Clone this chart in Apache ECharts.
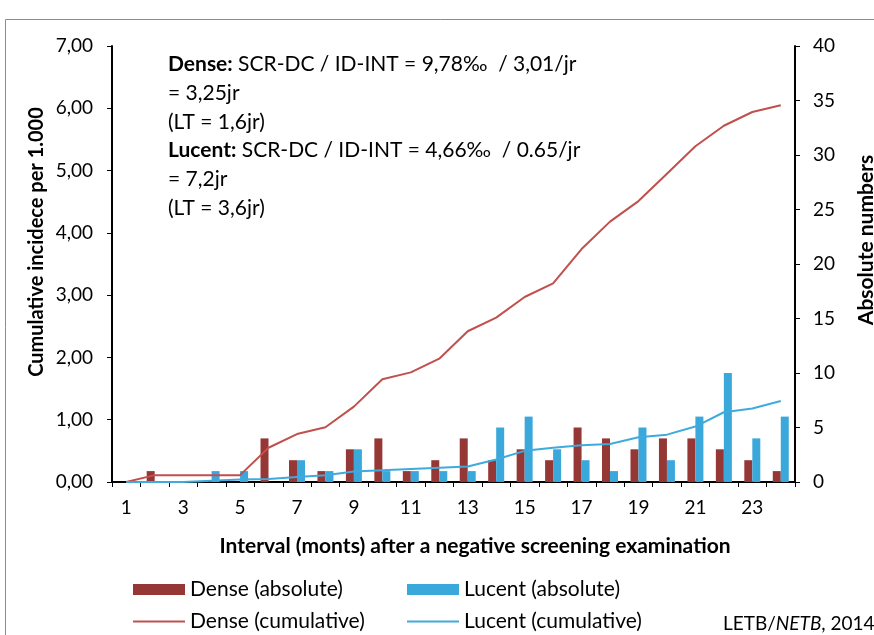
<!DOCTYPE html>
<html>
<head>
<meta charset="utf-8">
<script src="https://cdn.jsdelivr.net/npm/echarts@6/dist/echarts.min.js"></script>
<style>
html,body{margin:0;padding:0;background:#fff;}
#chart{width:874px;height:635px;}
</style>
</head>
<body>
<div id="chart"></div>
<script>
const categories = ['1','2','3','4','5','6','7','8','9','10','11','12','13','14','15','16','17','18','19','20','21','22','23','24'];
const denseAbsolute = [0,1,0,0,0,4,2,1,3,4,1,2,4,2,3,2,5,4,3,4,4,3,2,1];
const lucentAbsolute = [0,0,0,1,1,0,2,1,3,1,1,1,1,5,6,3,2,1,5,2,6,10,4,6];
const denseCumulative = [0,0.11,0.11,0.11,0.11,0.55,0.77,0.88,1.21,1.65,1.76,1.98,2.42,2.64,2.97,3.19,3.74,4.18,4.51,4.95,5.39,5.72,5.94,6.05];
const lucentCumulative = [0,0,0,0.02,0.04,0.05,0.08,0.11,0.17,0.19,0.21,0.23,0.25,0.36,0.50,0.55,0.59,0.61,0.72,0.76,0.89,1.12,1.18,1.30];
const leftTickLabels = ['0,00','1,00','2,00','3,00','4,00','5,00','6,00','7,00'];
const rightTickLabels = ['0','5','10','15','20','25','30','35','40'];
const seriesNames = ['Dense (absolute)','Lucent (absolute)','Dense (cumulative)','Lucent (cumulative)'];
const annotationLines = [
  '{b|Dense:} SCR-DC / ID-INT = 9,78\u2030  / 3,01/jr',
  '= 3,25jr',
  '(LT = 1,6jr)',
  '{b|Lucent:} SCR-DC / ID-INT = 4,66\u2030  / 0.65/jr',
  '= 7,2jr',
  '(LT = 3,6jr)'
];
const xTitle = 'Interval (monts) after a negative screening examination';
const leftTitle = 'Cumulative incidece per 1.000';
const rightTitle = 'Absolute numbers';

const FONT = 'Lato';
const C_DENSE_BAR = '#953735';
const C_LUCENT_BAR = '#3BA8DC';
const C_DENSE_LINE = '#C0504D';
const C_LUCENT_LINE = '#3FAADD';

const chart = echarts.init(document.getElementById('chart'), null, {renderer:'canvas'});

const annotationGraphics = annotationLines.map((t, i) => ({
  type: 'text', left: 168, top: 54 + i * 28.7,
  style: {text: t, font: '21px ' + FONT, fill: '#000',
    rich: {b: {fontWeight: 'bold', fontSize: 21, fontFamily: FONT, fill: '#000'}}}
}));

function legendFor(name, x, y, isLine) {
  return {
    left: x, top: y, orient: 'horizontal', padding: 0,
    data: [{name: name, icon: 'rect'}],
    itemWidth: 52, itemHeight: isLine ? 2 : 11,
    textStyle: {fontSize: 21, fontFamily: FONT, color: '#000'},
    selectedMode: false
  };
}

const option = {
  animation: false,
  backgroundColor: '#fff',
  textStyle: {fontFamily: FONT},
  grid: {left: 112, right: 79, top: 46, bottom: 153, containLabel: false},
  xAxis: {
    type: 'category', data: categories, boundaryGap: true,
    axisLine: {lineStyle: {color: '#000', width: 2}},
    axisTick: {show: true, interval: 0, length: 5, lineStyle: {color: '#000'}},
    axisLabel: {interval: 1, fontSize: 19, color: '#000', fontFamily: FONT, margin: 16},
    splitLine: {show: false}
  },
  yAxis: [
    {type: 'value', min: 0, max: 7, interval: 1, position: 'left',
     axisLine: {show: true, lineStyle: {color: '#000', width: 2}},
     axisTick: {show: true, length: 5, lineStyle: {color: '#000'}},
     axisLabel: {fontSize: 19, color: '#000', fontFamily: FONT, margin: 19,
       formatter: (v) => leftTickLabels[Math.round(v)]},
     splitLine: {show: false}},
    {type: 'value', min: 0, max: 40, interval: 5, position: 'right',
     axisLine: {show: true, lineStyle: {color: '#000', width: 2}},
     axisTick: {show: true, length: 5, lineStyle: {color: '#000'}},
     axisLabel: {fontSize: 19, color: '#000', fontFamily: FONT, margin: 18,
       formatter: (v) => rightTickLabels[Math.round(v / 5)]},
     splitLine: {show: false}}
  ],
  legend: [
    legendFor(seriesNames[0], 133, 579, false),
    legendFor(seriesNames[1], 407, 579, false),
    legendFor(seriesNames[2], 133, 611, true),
    legendFor(seriesNames[3], 407, 611, true)
  ],
  series: [
    {name: seriesNames[0], type: 'bar', yAxisIndex: 1, data: denseAbsolute,
     barWidth: 8, barGap: '0%', itemStyle: {color: C_DENSE_BAR}},
    {name: seriesNames[1], type: 'bar', yAxisIndex: 1, data: lucentAbsolute,
     barWidth: 8, barGap: '0%', itemStyle: {color: C_LUCENT_BAR}},
    {name: seriesNames[2], type: 'line', yAxisIndex: 0, data: denseCumulative,
     symbol: 'none', lineStyle: {color: C_DENSE_LINE, width: 2}, itemStyle: {color: C_DENSE_LINE}, z: 3},
    {name: seriesNames[3], type: 'line', yAxisIndex: 0, data: lucentCumulative,
     symbol: 'none', lineStyle: {color: C_LUCENT_LINE, width: 2}, itemStyle: {color: C_LUCENT_LINE}, z: 3}
  ],
  graphic: [
    {type: 'rect', shape: {x: 5.5, y: 19.5, width: 900, height: 700},
     style: {fill: 'none', stroke: '#8c8c8c', lineWidth: 1}, z: -1, silent: true},
    ...annotationGraphics,
    {type: 'text', x: 475, y: 546,
     style: {text: xTitle, font: 'bold 21px ' + FONT, fill: '#000', align: 'center', verticalAlign: 'middle'}},
    {type: 'text', x: 37, y: 242, rotation: Math.PI / 2,
     style: {text: leftTitle, font: 'bold 20px ' + FONT, fill: '#000', align: 'center', verticalAlign: 'middle'}},
    {type: 'text', x: 866, y: 240, rotation: Math.PI / 2,
     style: {text: rightTitle, font: 'bold 21px ' + FONT, fill: '#000', align: 'center', verticalAlign: 'middle'}},
    {type: 'text', x: 723, y: 624,
     style: {text: 'LETB/{i|NETB}, 2014', font: '19px ' + FONT, fill: '#000', verticalAlign: 'middle',
       rich: {i: {fontStyle: 'italic', fontSize: 19, fontFamily: FONT, fill: '#000'}}}}
  ]
};
chart.setOption(option);
</script>
</body>
</html>
